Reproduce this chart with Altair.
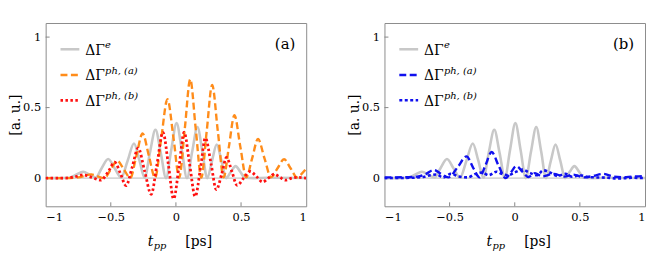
import altair as alt
import pandas as pd

# ---------------- data ----------------
# Delta Gamma^e  (grey, same in both panels)
T_E = [-1.0, -0.9, -0.82, -0.77, -0.712, -0.66, -0.615, -0.57, -0.52, -0.47, -0.42,
       -0.37, -0.322, -0.28, -0.24, -0.2, -0.157, -0.116, -0.076, -0.036, 0.005,
       0.045, 0.085, 0.125, 0.165, 0.203, 0.24, 0.277, 0.313, 0.35, 0.386, 0.422,
       0.458, 0.494, 0.53, 0.6, 0.7, 1.0]
V_E = [0.0, 0.0, 0.003, 0.022, 0.045, 0.022, 0.004, 0.07, 0.135, 0.07, 0.003,
       0.125, 0.245, 0.125, 0.002, 0.178, 0.343, 0.178, 0.0, 0.2, 0.39,
       0.2, 0.0, 0.188, 0.362, 0.188, 0.0, 0.122, 0.238, 0.122, 0.0, 0.045,
       0.085, 0.045, 0.002, 0.0, 0.002, 0.0]

# Delta Gamma^{ph,(a)}  panel (a)  orange
T_PA = [-1.0, -0.85, -0.75, -0.65, -0.6, -0.55, -0.5, -0.45, -0.4, -0.35, -0.303,
        -0.256, -0.208, -0.16, -0.113, -0.065, -0.018, 0.025, 0.068, 0.11, 0.152,
        0.195, 0.236, 0.278, 0.322, 0.366, 0.407, 0.449, 0.494, 0.54, 0.585, 0.63,
        0.68, 0.73, 0.78, 0.83, 0.88, 0.93, 0.965, 1.0]
V_PA = [0.0, 0.0, 0.005, 0.026, 0.012, 0.0, 0.062, 0.124, 0.062, 0.002, 0.16,
        0.317, 0.16, 0.002, 0.28, 0.559, 0.28, 0.004, 0.35, 0.70, 0.35,
        0.004, 0.33, 0.66, 0.33, 0.005, 0.225, 0.446, 0.225, 0.005, 0.14, 0.277,
        0.14, 0.006, 0.07, 0.134, 0.07, 0.005, 0.03, 0.066]

# Delta Gamma^{ph,(b)}  panel (a)  red dotted
T_PB = [-1.0, -0.85, -0.78, -0.714, -0.645, -0.576, -0.52, -0.47, -0.425, -0.383,
        -0.335, -0.29, -0.24, -0.19, -0.145, -0.1, -0.057, -0.018, 0.025, 0.063,
        0.105, 0.148, 0.19, 0.226, 0.27, 0.31, 0.352, 0.388, 0.43, 0.47, 0.52,
        0.57, 0.62, 0.665, 0.71, 0.755, 0.8, 0.84, 0.89, 0.93, 1.0]
V_PB = [0.0, 0.0, 0.008, 0.023, 0.005, -0.015, 0.045, 0.113, 0.03, -0.053,
        0.08, 0.213, 0.05, -0.115, 0.1, 0.325, 0.09, -0.148, 0.09, 0.326,
        0.1, -0.13, 0.08, 0.285, 0.1, -0.082, 0.03, 0.146, 0.045, -0.052, 0.0,
        0.047, 0.01, -0.028, 0.0, 0.028, 0.005, -0.015, 0.0, 0.005, 0.0]

# Delta Gamma^{ph,(a)}  panel (b)  blue dashed
T_BA = [-1.0, -0.85, -0.75, -0.68, -0.62, -0.565, -0.51, -0.44, -0.37, -0.32, -0.27,
        -0.225, -0.177, -0.125, -0.07, -0.03, 0.012, 0.06, 0.105, 0.155, 0.21,
        0.3, 0.38, 0.45, 0.53, 0.6, 0.68, 0.76, 0.82, 0.9, 1.0]
V_BA = [0.005, 0.006, 0.01, 0.03, 0.058, 0.03, 0.005, 0.075, 0.154, 0.075, 0.005,
        0.09, 0.185, 0.09, 0.0, 0.04, 0.085, 0.045, 0.008, 0.035, 0.012,
        0.03, 0.01, 0.025, 0.005, 0.015, 0.03, 0.01, 0.006, 0.01, 0.015]

# Delta Gamma^{ph,(b)}  panel (b)  blue dotted
T_BB = [-1.0, -0.8, -0.7, -0.65, -0.6, -0.55, -0.49, -0.43, -0.36, -0.3, -0.25,
        -0.2, -0.14, -0.1, -0.05, 0.0, 0.06, 0.12, 0.17, 0.22, 0.27, 0.33, 0.39,
        0.44, 0.5, 0.56, 0.62, 0.7, 0.8, 0.9, 1.0]
V_BB = [0.0, 0.002, 0.008, 0.02, 0.025, 0.005, 0.03, 0.012, 0.005, 0.03, 0.04,
        0.02, 0.045, 0.03, 0.02, 0.04, 0.06, 0.035, 0.02, 0.055, 0.04, 0.015, 0.03,
        0.01, 0.02, 0.008, 0.005, 0.003, -0.003, 0.002, 0.0]

XTICKS = [-1, -0.5, 0, 0.5, 1]
YTICKS = [0, 0.5, 1]
INNER_XTICKS = [-0.5, 0, 0.5]
INNER_YTICKS = [0, 0.5, 1]
LEGEND_SUP = ["e", "ph, (a)", "ph, (b)"]
PANEL_LABELS = ["(a)", "(b)"]

# ---------------- styling ----------------
W, H = 263, 185
FONT = "DejaVu Serif"
GREY = "#c8c8c8"
ORANGE = "#ff8c1a"
RED = "#ff1010"
BLUE = "#1010ee"

x_scale = alt.Scale(domain=[-1, 1], nice=False, zero=False)
y_scale = alt.Scale(domain=[-0.2, 1.1], nice=False, zero=False)
x_axis = alt.Axis(values=XTICKS, format=".2~f", title=None, grid=False, ticks=False,
                  domain=False, labelFont=FONT, labelFontSize=11.5, labelColor="black",
                  labelPadding=5)
y_axis = alt.Axis(values=YTICKS, format=".2~f", title="[a. u.]", grid=False, ticks=False,
                  domain=False, labelFont=FONT, labelFontSize=11.5, labelColor="black",
                  labelPadding=5, titleFont=FONT, titleFontSize=14,
                  titleFontWeight="normal", titleColor="black", titlePadding=0)

ONE = pd.DataFrame({"k": [0]})


def X(field="t"):
    return alt.X(f"{field}:Q", scale=x_scale, axis=x_axis)


def Y(field="v"):
    return alt.Y(f"{field}:Q", scale=y_scale, axis=y_axis)


def curve(t, v, color, width, dash=None):
    df = pd.DataFrame({"t": t, "v": v})
    props = dict(color=color, strokeWidth=width, interpolate="monotone", clip=True)
    if dash is not None:
        props["strokeDash"] = dash
    return alt.Chart(df).mark_line(**props).encode(x=X(), y=Y())


def frame_layers():
    zero = alt.Chart(pd.DataFrame({"v": [0]})).mark_rule(
        color="#b8b8b8", strokeWidth=1).encode(y=Y())
    yt = alt.Chart(pd.DataFrame({"v": INNER_YTICKS})).mark_rule(
        color="#888888", strokeWidth=1).encode(y=Y(), x=alt.value(0), x2=alt.value(4))
    xt = alt.Chart(pd.DataFrame({"t": INNER_XTICKS})).mark_rule(
        color="#888888", strokeWidth=1).encode(x=X(), y=alt.value(H), y2=alt.value(H - 4))
    return [zero, yt, xt]


def legend_layers(colors, dashes, widths):
    layers = []
    rows_line = [26.5, 52.5, 78]
    rows_base = [32, 58, 83.5]
    for i in range(3):
        props = dict(color=colors[i], strokeWidth=widths[i])
        if dashes[i] is not None:
            props["strokeDash"] = dashes[i]
        layers.append(alt.Chart(ONE).mark_rule(**props).encode(
            x=alt.value(15), x2=alt.value(34), y=alt.value(rows_line[i])))
        layers.append(alt.Chart(ONE).mark_text(
            font=FONT, fontSize=14, align="left", baseline="alphabetic", color="black"
        ).encode(x=alt.value(40), y=alt.value(rows_base[i]), text=alt.value("ΔΓ")))
        layers.append(alt.Chart(ONE).mark_text(
            font=FONT, fontSize=10, fontStyle="italic", align="left",
            baseline="alphabetic", color="black"
        ).encode(x=alt.value(60), y=alt.value(rows_base[i] - 6.5),
                 text=alt.value(LEGEND_SUP[i])))
    return layers


def text_layers(panel_label):
    lab = alt.Chart(ONE).mark_text(
        font=FONT, fontSize=15, align="right", baseline="alphabetic", color="black"
    ).encode(x=alt.value(252), y=alt.value(26.5), text=alt.value(panel_label))
    t1 = alt.Chart(ONE).mark_text(
        font=FONT, fontSize=14, fontStyle="italic", align="left", baseline="alphabetic",
        color="black").encode(x=alt.value(103), y=alt.value(225), text=alt.value("t"))
    t2 = alt.Chart(ONE).mark_text(
        font=FONT, fontSize=10, fontStyle="italic", align="left", baseline="alphabetic",
        color="black").encode(x=alt.value(109), y=alt.value(228), text=alt.value("pp"))
    t3 = alt.Chart(ONE).mark_text(
        font=FONT, fontSize=14, align="left", baseline="alphabetic",
        color="black").encode(x=alt.value(141), y=alt.value(225), text=alt.value("[ps]"))
    return [lab, t1, t2, t3]


left = alt.layer(
    *frame_layers(),
    curve(T_E, V_E, GREY, 2.6),
    curve(T_PA, V_PA, ORANGE, 2.4, [7, 3.5]),
    curve(T_PB, V_PB, RED, 2.8, [2.5, 2.5]),
    *legend_layers([GREY, ORANGE, RED], [None, [7, 3.5], [2.5, 2.5]], [2.6, 2.4, 2.8]),
    *text_layers(PANEL_LABELS[0]),
).properties(width=W, height=H)

right = alt.layer(
    *frame_layers(),
    curve(T_E, V_E, GREY, 2.6),
    curve(T_BA, V_BA, BLUE, 2.4, [7, 3.5]),
    curve(T_BB, V_BB, BLUE, 2.6, [3, 2.5]),
    *legend_layers([GREY, BLUE, BLUE], [None, [7, 3.5], [3, 2.5]], [2.6, 2.4, 2.6]),
    *text_layers(PANEL_LABELS[1]),
).properties(width=W, height=H)

chart = alt.hconcat(left, right, spacing=40).properties(
    padding={"left": 0, "top": 13, "right": 0, "bottom": 0}
).configure(background="white", font=FONT).configure_view(stroke="#8c8c8c", strokeWidth=1)

chart.save("out.html", embed_options={"renderer": "svg", "actions": False})
